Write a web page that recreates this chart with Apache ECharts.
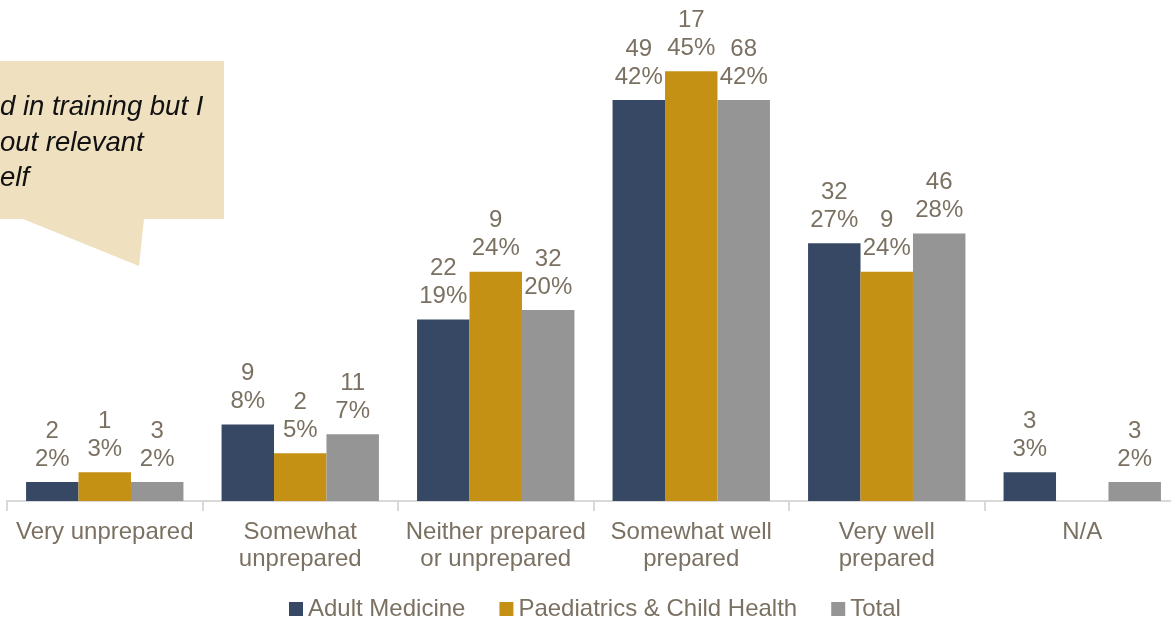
<!DOCTYPE html>
<html>
<head>
<meta charset="utf-8">
<script src="https://cdn.jsdelivr.net/npm/echarts@6/dist/echarts.min.js"></script>
<style>
    html, body { margin: 0; padding: 0; background: #fff; overflow: hidden; }
    #cn { width: 1180px; height: 618px; }
</style>
</head>
<body>
<div id="cn"></div>
<script>
'use strict';

const arrCategory = ['Very unprepared', 'Somewhat\nunprepared', 'Neither prepared\nor unprepared', 'Somewhat well\nprepared', 'Very well\nprepared', 'N/A'];

// bar heights are the percentages, labels show count + percentage
const arrAdultPct = [2, 8, 19, 42, 27, 3];
const arrAdultCnt = [2, 9, 22, 49, 32, 3];
const arrPaedPct = [3, 5, 24, 45, 24, 0];
const arrPaedCnt = [1, 2, 9, 17, 9, 0];
const arrTotalPct = [2, 7, 20, 42, 28, 2];
const arrTotalCnt = [3, 11, 32, 68, 46, 3];

const strFont = 'Arial';
const strText = '#7b7162';

const makeSeries = (name, arrPct, arrCnt, color) => {
    return {
        name: name,
        type: 'bar',
        barGap: '0%',
        barCategoryGap: '19.5%',
        itemStyle: {
            color: color
        },
        label: {
            show: true,
            position: 'top',
            distance: 9,
            color: strText,
            fontFamily: strFont,
            fontSize: 24,
            lineHeight: 28,
            formatter: (p) => {
                if (arrCnt[p.dataIndex] === 0) return ''; //0件は表示しない
                return `${arrCnt[p.dataIndex]}\n${p.value}%`;
            }
        },
        data: arrPct
    };
}

const optionChart = {
    animation: false,
    textStyle: {
        fontFamily: strFont
    },
    grid: {
        left: 7,
        right: 0, //divは1180px幅、右端は画面外
        top: 23.5,
        bottom: 117
    },
    xAxis: {
        type: 'category',
        data: arrCategory,
        axisLine: {
            lineStyle: {
                color: '#d9d9d9',
                width: 2
            }
        },
        axisTick: {
            show: true,
            length: 10,
            lineStyle: {
                color: '#d9d9d9',
                width: 2
            }
        },
        axisLabel: {
            color: strText,
            fontFamily: strFont,
            fontSize: 24,
            lineHeight: 27,
            margin: 18,
            interval: 0
        }
    },
    yAxis: {
        type: 'value',
        min: 0,
        max: 50,
        show: false,
        splitLine: {
            show: false
        }
    },
    legend: {
        data: ['Adult Medicine', 'Paediatrics & Child Health', 'Total'],
        left: 289,
        top: 597,
        padding: 0,
        icon: 'rect',
        itemWidth: 14,
        itemHeight: 14,
        itemGap: 34,
        textStyle: {
            color: strText,
            fontFamily: strFont,
            fontSize: 24
        }
    },
    graphic: [{
            type: 'polygon',
            shape: {
                points: [[0, 61], [224, 61], [224, 219], [144, 219], [139, 266], [23, 219], [0, 219]]
            },
            style: {
                fill: '#efe0c0'
            }
        },
        {
            type: 'text',
            left: 0,
            top: 90,
            style: {
                text: 'd in training but I\nout relevant\nelf',
                fill: '#111',
                fontFamily: strFont,
                fontStyle: 'italic',
                fontSize: 27.5,
                lineHeight: 35.5
            }
        }
    ],
    series: [
        makeSeries('Adult Medicine', arrAdultPct, arrAdultCnt, '#374865'),
        makeSeries('Paediatrics & Child Health', arrPaedPct, arrPaedCnt, '#c59114'),
        makeSeries('Total', arrTotalPct, arrTotalCnt, '#959595')
    ]
}

const echartsChart = echarts.init(document.getElementById('cn'));
echartsChart.setOption(optionChart);
</script>
</body>
</html>
